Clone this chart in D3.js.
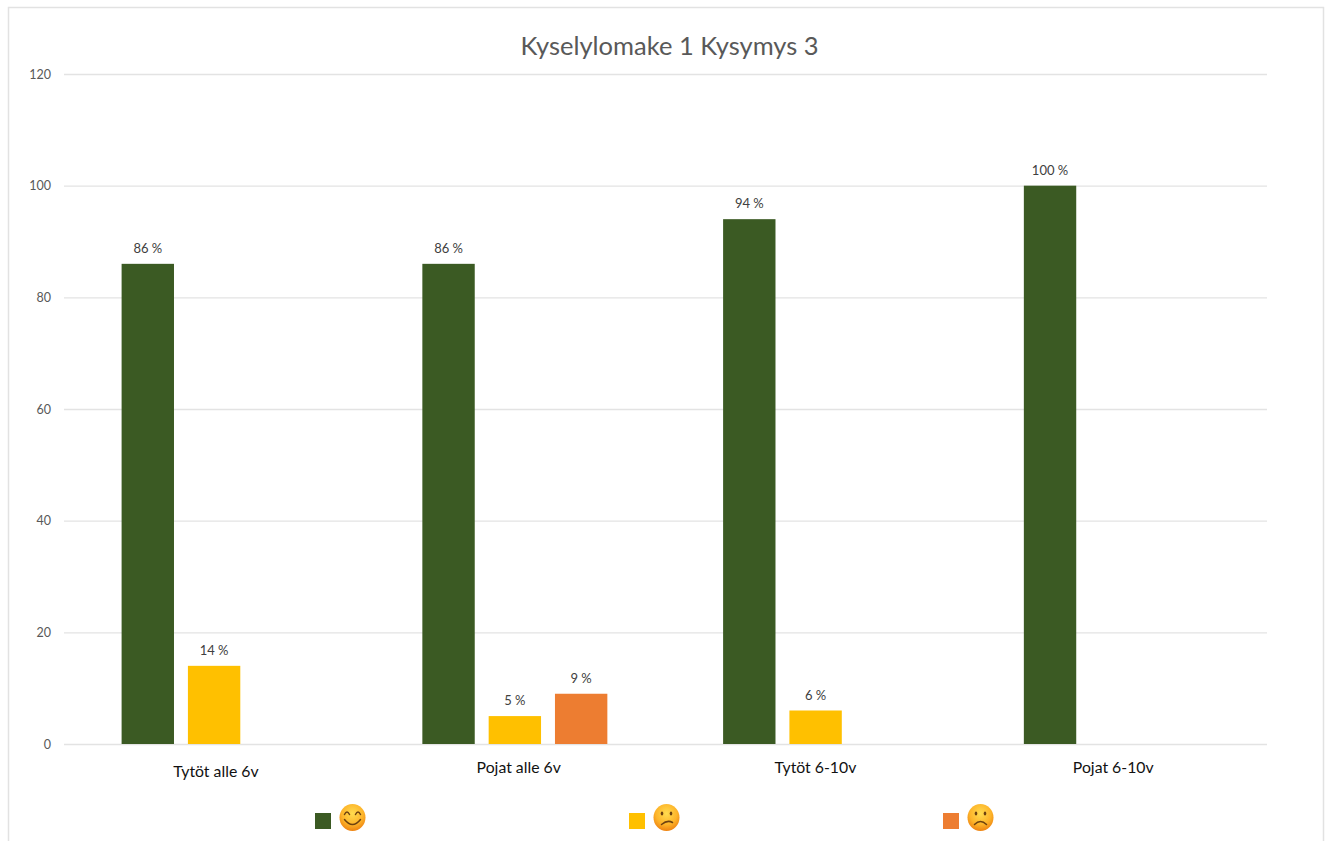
<!DOCTYPE html>
<html><head><meta charset="utf-8">
<script src="https://cdnjs.cloudflare.com/ajax/libs/d3/7.8.5/d3.min.js"></script>
<style>html,body{margin:0;padding:0;background:#fff}svg{display:block}text{font-family:Lato,"Open Sans",sans-serif}</style>
</head><body><svg id="c" width="1330" height="841"></svg>
<script>
const title = "Kyselylomake 1 Kysymys 3";
const categories = ["Tytöt alle 6v","Pojat alle 6v","Tytöt 6-10v","Pojat 6-10v"];
const seriesNames = ["happy","neutral","sad"];
const seriesColors = ["#3b5a23","#ffc000","#ed7d31"];
const happy = [86,86,94,100];
const neutral = [14,5,6,null];
const sad = [null,9,null,null];
const yTicks = [0,20,40,60,80,100,120];
const seriesValues = [happy,neutral,sad];

const svg = d3.select("#c");
const M = {l:64,r:1267,t:74,b:744};
const x0 = d3.scaleBand().domain(categories).range([M.l-0.4,M.r-0.4]);
const x1 = d3.scaleBand().domain(seriesNames).range([58,243]).paddingInner(0.21).paddingOuter(0);
const y = d3.scaleLinear().domain([0,120]).range([M.b,M.t]);

// frame
svg.append("path").attr("d","M8.5,841V7.5H1323.5V841").attr("fill","none").attr("stroke","#e2e2e2").attr("stroke-width",1.5);

// gridlines + y axis
const yAxis = d3.axisLeft(y).tickValues(yTicks).tickSize(0).tickPadding(0);
const gy = svg.append("g").attr("transform",`translate(${M.l},0)`).call(yAxis);
gy.select(".domain").remove();
gy.selectAll("text").attr("x",-13).attr("font-size",12.5).attr("fill","#595959").style("font-family","Lato");
svg.append("g").selectAll("line").data(yTicks).join("line")
  .attr("x1",M.l).attr("x2",M.r).attr("y1",d=>y(d)+.5).attr("y2",d=>y(d)+.5)
  .attr("stroke","#e3e3e3").attr("stroke-width",1.3);

// bars + labels
seriesNames.forEach((s,i)=>{
  const g = svg.append("g");
  const rows = categories.map((c,j)=>({c,v:seriesValues[i][j]})).filter(d=>d.v!=null);
  g.selectAll("rect").data(rows).join("rect")
    .attr("x",d=>x0(d.c)+x1(s)).attr("width",x1.bandwidth())
    .attr("y",d=>y(d.v)).attr("height",d=>y(0)-y(d.v)).attr("fill",seriesColors[i]);
  g.selectAll("text").data(rows).join("text")
    .attr("x",d=>x0(d.c)+x1(s)+x1.bandwidth()/2).attr("y",d=>y(d.v)-11)
    .attr("text-anchor","middle").attr("font-size",13).attr("fill","#404040")
    .text(d=>d.v+" %");
});

// category labels (slightly nudged, as hand-placed in the reference)
const nudgeX = [2,4,0,-3], nudgeY = [777,773,773,773];
svg.append("g").selectAll("text").data(categories).join("text")
  .attr("x",(d,i)=>x0(d)+x0.bandwidth()/2+nudgeX[i]).attr("y",(d,i)=>nudgeY[i])
  .attr("text-anchor","middle").attr("font-size",15.8).attr("fill","#111").text(d=>d);

// title
svg.append("text").attr("x",669.5).attr("y",55).attr("text-anchor","middle")
  .attr("font-size",25.5).attr("fill","#595959").text(title);

// legend
const defs = svg.append("defs");
const grad = defs.append("radialGradient").attr("id","face").attr("cx","50%").attr("cy","35%").attr("r","68%");
grad.append("stop").attr("offset","0%").attr("stop-color","#ffdc50");
grad.append("stop").attr("offset","60%").attr("stop-color","#fdb42a");
grad.append("stop").attr("offset","100%").attr("stop-color","#ec7d0e");
const legendX = d3.scalePoint().domain(seriesNames).range([315,943]);
const mouthC = "#6e4210";
seriesNames.forEach((s,i)=>{
  const lx = legendX(s);
  svg.append("rect").attr("x",lx).attr("y",813).attr("width",16).attr("height",16).attr("fill",seriesColors[i]);
  const f = svg.append("g").attr("transform",`translate(${lx+37.5},817.5)`);
  f.append("ellipse").attr("rx",13).attr("ry",13.5).attr("fill","url(#face)");
  const stroke = {fill:"none",stroke:mouthC,"stroke-width":1.5,"stroke-linecap":"round"};
  const mark = d=>{const p=f.append("path").attr("d",d);Object.entries(stroke).forEach(([k,v])=>p.attr(k,v));};
  if(i===0){
    mark("M-8,-3Q-5.5,-8 -3,-3"); mark("M3,-3Q5.5,-8 8,-3");
    mark("M-8,2Q0,12 8,2");
  } else {
    f.selectAll("ellipse.eye").data([-4.5,4.5]).join("ellipse").attr("class","eye")
      .attr("cx",d=>d).attr("cy",-4).attr("rx",1.3).attr("ry",2).attr("fill",mouthC);
    mark(i===1?"M-5,7Q1,2 6,5":"M-6,7Q0,1 6,7");
  }
});
</script></body></html>
